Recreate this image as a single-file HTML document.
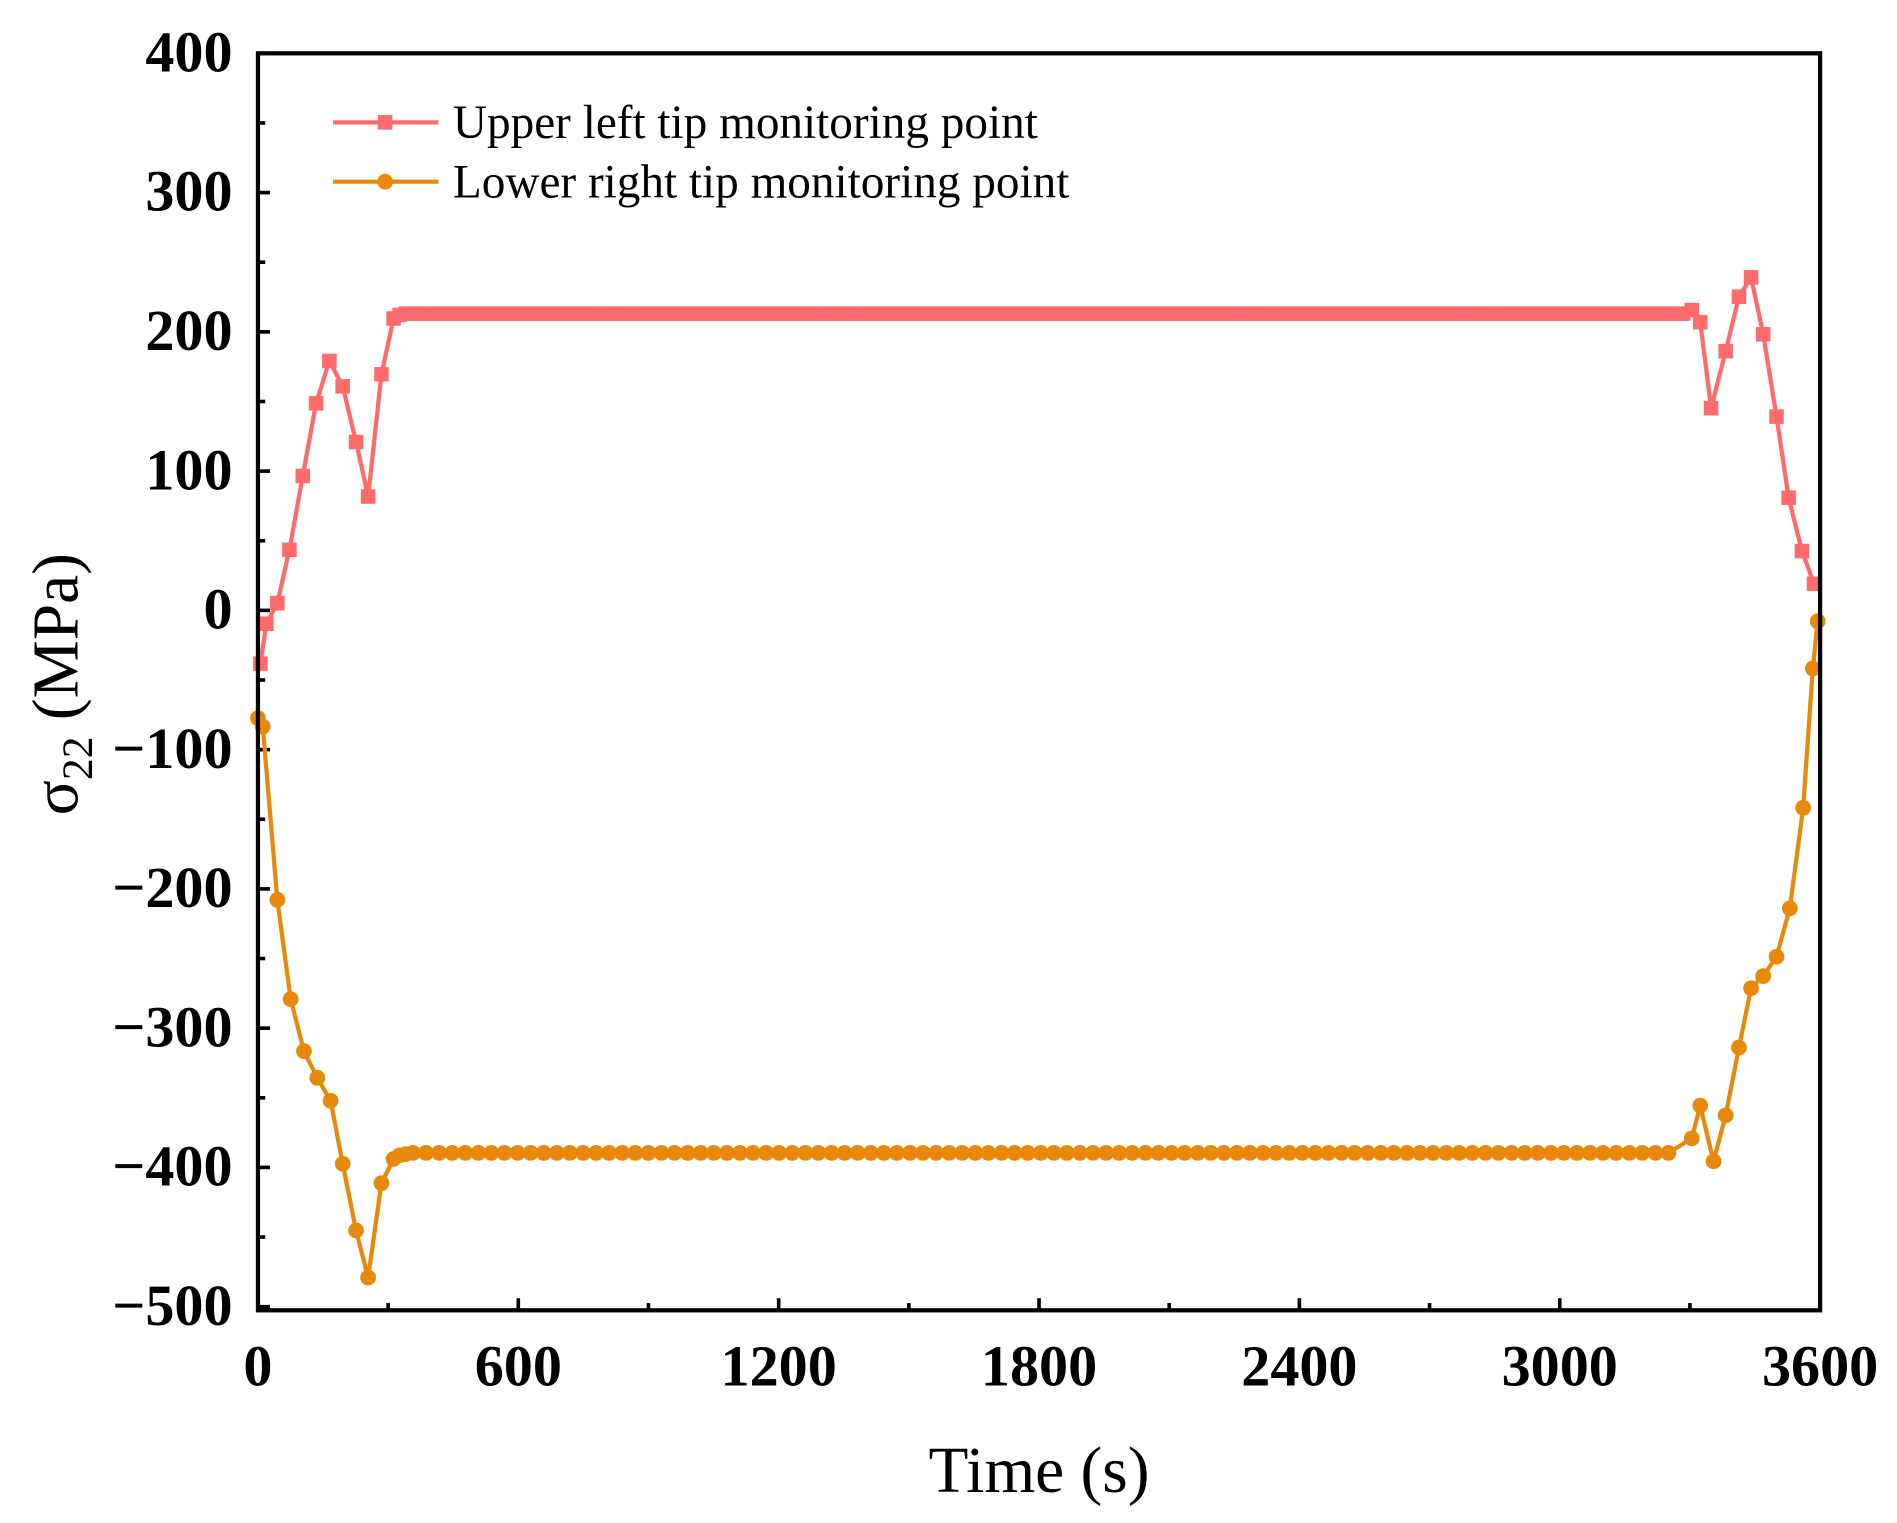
<!DOCTYPE html>
<html><head><meta charset="utf-8"><style>
html,body{margin:0;padding:0;background:#fff;}
svg{display:block;}
</style></head><body>
<svg id="s" width="1897" height="1523" viewBox="0 0 1566.5 1257.6" xmlns="http://www.w3.org/2000/svg" font-family="Liberation Serif, serif">
<rect x="0" y="0" width="1566.5" height="1257.6" fill="#fff"/>
<g id="ticks" stroke="#000" stroke-width="3"></g>
<g font-weight="bold" font-size="48" text-anchor="end">
<text x="192" y="59">400</text>
<text x="192" y="174">300</text>
<text x="192" y="289">200</text>
<text x="192" y="404">100</text>
<text x="192" y="519">0</text>
<text x="192" y="634">−100</text>
<text x="192" y="749">−200</text>
<text x="192" y="864">−300</text>
<text x="192" y="979">−400</text>
<text x="192" y="1094">−500</text>
</g>
<g font-weight="bold" font-size="48" text-anchor="middle">
<text x="213" y="1144">0</text>
<text x="428" y="1144">600</text>
<text x="643" y="1144">1200</text>
<text x="858" y="1144">1800</text>
<text x="1073" y="1144">2400</text>
<text x="1288" y="1144">3000</text>
<text x="1503" y="1144">3600</text>
</g>
<text x="858" y="1232" font-size="54" text-anchor="middle">Time (s)</text>
<text transform="translate(64,565) rotate(-90)" font-size="54" text-anchor="middle">σ<tspan font-size="36" dy="12">22</tspan><tspan dy="-12"> (MPa)</tspan></text>
<g id="series"></g>
<rect x="213" y="44" width="1290" height="1038" fill="none" stroke="#000" stroke-width="3.5"/>
<line x1="275" y1="101" x2="362" y2="101" stroke="#FF6B6B" stroke-width="3.5"/>
<rect x="312" y="95" width="12" height="12" fill="#FF6B6B"/>
<text x="374" y="114" font-size="39">Upper left tip monitoring point</text>
<line x1="275" y1="150" x2="362" y2="150" stroke="#E8890C" stroke-width="3.5"/>
<circle cx="318" cy="150" r="6.5" fill="#E8890C"/>
<text x="374" y="163" font-size="39">Lower right tip monitoring point</text>
</svg>
<script>
var NS="http://www.w3.org/2000/svg";
var t=document.getElementById('ticks'),s=document.getElementById('series');
function el(n,a,p){var e=document.createElementNS(NS,n);for(var k in a)e.setAttribute(k,a[k]);p.appendChild(e);return e;}
for(var i=0;i<=18;i++){var y=44+i*57.5;var L=(i%2==0)?10:6;el('line',{x1:213,y1:y,x2:213+L,y2:y},t);}
for(var i=0;i<=12;i++){var x=213+i*107.5;var L=(i%2==0)?10:6;el('line',{x1:x,y1:1082,x2:x,y2:1082-L},t);}
var red=[[215,548],[220,515],[229,498],[239,454],[250,393],[261,333],[272,298],[283,319],[294,365],[304,410],[315,309],[325,263],[330,260]];
for(var x=335;x<=1390;x+=5)red.push([x,259]);
red=red.concat([[1397,256],[1404,266],[1413,337],[1425,290],[1436,245],[1446,229],[1456,276],[1467,344],[1477,411],[1488,455],[1498,482]]);
var org=[[213,593],[217,600],[229,743],[240,825],[251,868],[262,890],[273,909],[283,961],[294,1016],[304,1055],[315,977],[325,957],[330,954],[335,953]];
for(var x=341;x<=1385;x+=10.8)org.push([x,952]);
org=org.concat([[1397,940],[1404,913],[1415,959],[1425,921],[1436,865],[1446,816],[1456,806],[1467,790],[1478,750],[1489,667],[1497,552],[1501,513]]);
function pts(a){return a.map(function(p){return p.join(',')}).join(' ');}
el('polyline',{points:pts(red),fill:'none',stroke:'#FF6B6B','stroke-width':3.5},s);
red.forEach(function(p){el('rect',{x:p[0]-6,y:p[1]-6,width:12,height:12,fill:'#FF6B6B'},s);});
el('polyline',{points:pts(org),fill:'none',stroke:'#E8890C','stroke-width':3.5},s);
org.forEach(function(p){el('circle',{cx:p[0],cy:p[1],r:6.5,fill:'#E8890C'},s);});
</script>
</body></html>
